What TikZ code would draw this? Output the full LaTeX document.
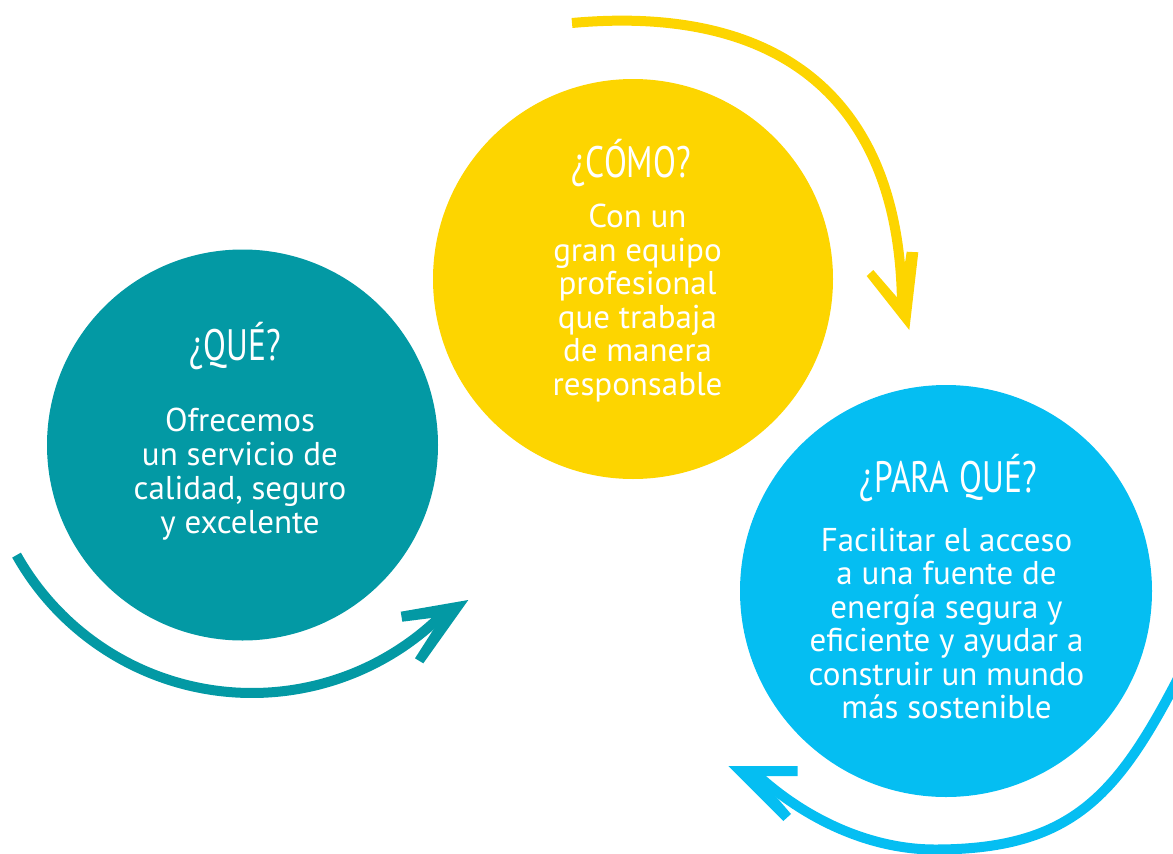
\documentclass[tikz,border=0pt]{standalone}
\usepackage{fontspec}
\setmainfont{PT Sans}
\definecolor{cteal}{HTML}{0399A4}
\definecolor{cyel}{HTML}{FDD500}
\definecolor{ccyan}{HTML}{05BEF2}
\tikzset{
  disc/.style={circle, inner sep=0pt, draw=none},
  bodyline/.style={anchor=base, inner sep=0pt, text=white, font=\fontsize{33}{34}\selectfont},
  titleline/.style={anchor=base, inner sep=0pt, text=white, font=\fontsize{44}{50}\selectfont},
  shaft/.style={line width=10pt, line cap=butt},
}
\newcommand{\cond}[1]{\scalebox{0.76}[1]{#1}}
\begin{document}
\begin{tikzpicture}[x=1pt,y=-1pt]
\useasboundingbox (0,0) rectangle (1173,854);
\clip (0,0) rectangle (1173,854);

% discs
\node[disc, fill=cteal, minimum size=391pt] (qdisc) at (242.5,445) {};
\node[disc, fill=cyel, minimum size=400pt] (cdisc) at (633,279) {};
\node[disc, fill=ccyan, minimum size=412pt] (pdisc) at (946,591) {};

% teal arrow
\coordinate (tcen) at (252,423);
\draw[shaft, cteal] (tcen) ++(150.7:270) arc[start angle=150.7, end angle=44, radius=270];
\fill[cteal] (468.3,600) -- (400.7,611.7) -- (402.3,621.7) -- (441.7,616.7)
  -- (415,658.3) -- (423.3,663.3) -- cycle;

% yellow arrow
\coordinate (ys) at (572,23);
\coordinate (ye) at (902,312);
\draw[shaft, cyel] (ys) .. controls (781,4) and (903,100) .. (ye);
\fill[cyel] (909.3,330) -- (866.7,276) -- (873.3,270) -- (899.3,300)
  -- (906.7,251.7) -- (918.3,252.3) -- cycle;

% cyan arrow
\coordinate (cs) at (1190,655);
\coordinate (cb) at (935,849.5);
\coordinate (ce) at (752,770);
\draw[shaft, ccyan] (cs) .. controls (1122.5,788.5) and (1080,849.5) .. (cb)
  .. controls (869,849.5) and (802,818) .. (ce);
\fill[ccyan] (728.3,766) -- (797.7,766) -- (797.7,776) -- (758.3,776)
  -- (791,814) -- (783.3,821) -- cycle;

% texts: QUE
\node[titleline] (qt) at (235,360) {\cond{¿QUÉ?}};
\node[bodyline] (q1) at (240,431) {Ofrecemos};
\node[bodyline] (q2) at (240,465) {un servicio de};
\node[bodyline] (q3) at (240,499) {calidad, seguro};
\node[bodyline] (q4) at (240,533) {y excelente};

% texts: COMO
\node[titleline] (ct) at (631,177) {\cond{¿CÓMO?}};
\node[bodyline] (c1) at (637.5,227.5) {Con un};
\node[bodyline] (c2) at (637.5,261) {gran equipo};
\node[bodyline] (c3) at (637.5,294.5) {profesional};
\node[bodyline] (c4) at (637.5,328) {que trabaja};
\node[bodyline] (c5) at (637.5,361.5) {de manera};
\node[bodyline] (c6) at (637.5,395) {responsable};

% texts: PARA QUE
\node[titleline] (pt) at (948.5,492) {\cond{¿PARA\hspace{14pt}QUÉ?}};
\node[bodyline] (p1) at (946.5,551) {Facilitar el acceso};
\node[bodyline] (p2) at (946.5,584.5) {a una fuente de};
\node[bodyline] (p3) at (946.5,618) {energía segura y};
\node[bodyline] (p4) at (946.5,651.5) {eficiente y ayudar a};
\node[bodyline] (p5) at (946.5,685) {construir un mundo};
\node[bodyline] (p6) at (946.5,718.6) {más sostenible};
\end{tikzpicture}
\end{document}
